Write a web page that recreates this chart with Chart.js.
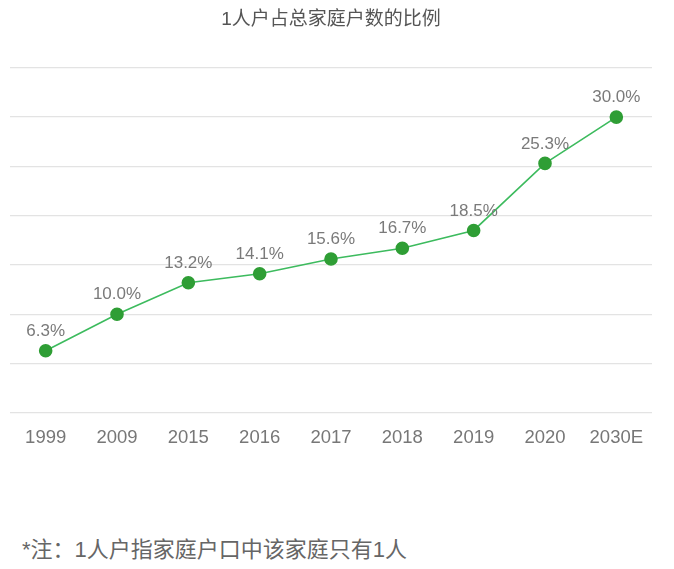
<!DOCTYPE html>
<html>
<head>
<meta charset="utf-8">
<script src="https://cdn.jsdelivr.net/npm/chart.js@4"></script>
<style>
  html, body { margin: 0; padding: 0; background: #fff; }
  #wrap { position: relative; width: 674px; height: 569px; }
  #note {
    position: absolute; left: 22px; top: 531px;
    font-family: 'Liberation Sans', 'Noto Sans CJK SC', sans-serif;
    font-size: 22px; color: #666;
  }
</style>
</head>
<body>
<div id="wrap">
  <canvas id="chartSingleHousehold" width="674" height="455"></canvas>
  <div id="note">*注：1人户指家庭户口中该家庭只有1人</div>
</div>
<script>
// single-person household share
const years = ['1999', '2009', '2015', '2016', '2017', '2018', '2019', '2020', '2030E'];
const shares = [6.3, 10.0, 13.2, 14.1, 15.6, 16.7, 18.5, 25.3, 30.0];

const FONT = "'Liberation Sans', 'Noto Sans CJK SC', sans-serif";

// draws "x.x%" above each point
const pointLabels = {
  id: 'pointLabels',
  afterDatasetsDraw(chart) {
    const ctx = chart.ctx;
    const meta = chart.getDatasetMeta(0);
    ctx.save();
    ctx.font = '17px ' + FONT;
    ctx.fillStyle = '#7a7a7a';
    ctx.textAlign = 'center';
    ctx.textBaseline = 'bottom';
    meta.data.forEach((pt, i) => {
      ctx.fillText(shares[i].toFixed(1) + '%', pt.x, pt.y - 11);
    });
    ctx.restore();
  }
};

const canvas = document.getElementById('chartSingleHousehold');
new Chart(canvas.getContext('2d'), {
  type: 'line',
  data: {
    labels: years,
    datasets: [{
      data: shares,
      borderColor: '#3dbb5e',
      borderWidth: 1.6,
      pointBackgroundColor: '#2f9e35',
      pointBorderColor: '#2f9e35',
      pointRadius: 6,
      tension: 0,
      fill: false,
    }],
  },
  options: {
    responsive: false,
    animation: false,
    layout: { padding: { left: 10, right: 22, top: 0, bottom: 0 } },
    plugins: {
      legend: { display: false },
      tooltip: { enabled: false },
      title: {
        display: true,
        text: '1人户占总家庭户数的比例',
        color: '#555',
        font: { family: FONT, size: 19, weight: 'normal' },
        padding: { top: 8, bottom: 37 },
      },
    },
    scales: {
      y: {
        min: 0,
        max: 35,
        ticks: { stepSize: 5, display: false },
        border: { display: false },
        grid: { color: '#e3e3e3', lineWidth: 1.2, drawTicks: false },
      },
      x: {
        offset: true,
        border: { display: false },
        grid: { display: false },
        ticks: {
          color: '#777',
          font: { family: FONT, size: 18.5 },
          padding: 6,
        },
      },
    },
  },
  plugins: [pointLabels],
});
</script>
</body>
</html>
